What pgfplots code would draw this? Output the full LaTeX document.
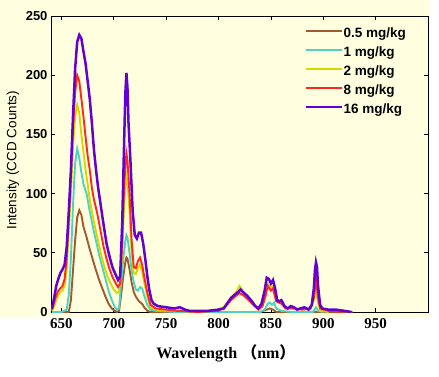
\documentclass[border=0pt]{standalone}
\usepackage{fontspec}
\setmainfont{Liberation Sans}
\newfontfamily\timesfont{Liberation Serif}
\newfontfamily\cjk{Noto Sans CJK SC}
\usepackage{pgfplots}
\pgfplotsset{compat=1.18}
\usetikzlibrary{backgrounds}
\definecolor{cream}{RGB}{255,255,224}
\definecolor{cbrown}{RGB}{160,90,45}
\definecolor{ccyan}{RGB}{80,210,195}
\definecolor{cyell}{RGB}{215,215,0}
\definecolor{cred}{RGB}{255,40,30}
\definecolor{cpurp}{RGB}{100,0,210}
\begin{document}
\begin{tikzpicture}
\begin{axis}[
  name=ax,
  scale only axis, width=377bp, height=296bp,
  xmin=640, xmax=1000, ymin=0, ymax=250,
  xtick={650,700,...,950}, ytick={0,50,...,250},
  tick align=inside, major tick length=4bp,
  axis line style={line width=0.9bp},
  every tick/.style={black, line width=0.8bp},
  /pgf/number format/assume math mode=true,
  /pgf/number format/set thousands separator={},
  xticklabel style={font=\timesfont\bfseries\fontsize{15bp}{15bp}\selectfont, yshift=-3bp},
  yticklabel style={font=\bfseries\fontsize{13bp}{13bp}\selectfont},
  xlabel={{\timesfont\bfseries Wavelength \cjk\bfseries（\timesfont\bfseries nm\cjk\bfseries）}},
  xlabel style={font=\fontsize{16bp}{16bp}\selectfont, at={(axis description cs:0.464,-0.139)}, anchor=center},
  ylabel={Intensity (CCD Counts)},
  ylabel style={font=\fontsize{13.5bp}{13.5bp}\selectfont, at={(axis description cs:-0.101,0.513)}, anchor=center},
  axis background/.style={fill=cream},
  legend cell align=left,
  legend style={draw=none, fill=none, at={(axis description cs:0.672,0.967)}, anchor=north west,
    font=\bfseries\fontsize{13.5bp}{13.5bp}\selectfont, inner sep=0pt, row sep=0pt,
    nodes={inner sep=1bp, text height=11bp, text depth=6bp}},
  legend image code/.code={\draw[#1, line width=2bp] (0bp,4.5bp) -- (36bp,4.5bp);},
]
\addplot[cbrown, line width=1.9bp] coordinates {
(641,0)(657,0)(659,10)(661,35)(663,60)(665,80)(667,86)(669,82)(671,72)(674,63)(677,53)(680,44)(683,35)(686,27)(689,20)(692,13)(695,7)(698,3)(701,1)(703,0)(705,1)(707,15)(709,30)(711,42)(712,46)(713,45)(715,36)(717,25)(719,17)(721,13)(724,9)(727,7)(729,4)(732,1)(735,0)(840,0)(846,2)(849,3)(852,2)(855,0)(928,0)};
\addlegendentry{0.5 mg/kg}
\addplot[ccyan, line width=1.9bp] coordinates {
(641,0)(650,0)(655,2)(657,15)(659,45)(661,90)(663,125)(665,138)(667,130)(669,118)(671,108)(674,100)(677,85)(680,72)(683,60)(686,48)(689,38)(692,28)(695,18)(698,10)(701,4)(703,2)(705,3)(707,25)(709,45)(711,60)(712,65)(713,63)(715,50)(717,35)(719,25)(721,19)(723,18)(725,21)(727,20)(729,14)(732,6)(735,2)(740,1)(760,0)(840,0)(844,2)(847,7)(849,8)(851,6)(853,8)(855,3)(860,1)(870,0)(890,0)(893,4)(895,1)(900,0)};
\addlegendentry{1 mg/kg}
\addplot[cyell, line width=1.9bp] coordinates {
(641,1)(643,5)(645,10)(647,14)(649,17)(651,18)(653,22)(655,38)(657,70)(659,100)(661,140)(663,165)(665,175)(667,168)(669,150)(671,135)(673,120)(675,108)(677,95)(679,85)(682,72)(685,60)(688,48)(691,38)(694,30)(697,24)(700,19)(703,16)(705,17)(708,50)(710,95)(712,115)(713,110)(715,85)(717,50)(719,33)(721,32)(723,37)(725,40)(727,34)(729,25)(732,13)(735,4)(740,2)(760,1)(780,0)(800,2)(806,5)(812,12)(817,17)(820,22)(824,17)(831,10)(838,3)(842,6)(845,16)(847,24)(850,21)(852,22)(855,10)(860,9)(864,3)(870,4)(880,2)(888,3)(891,10)(893,20)(895,8)(897,1)(905,0)};
\addlegendentry{2 mg/kg}
\addplot[cred, line width=1.9bp] coordinates {
(641,2)(643,8)(645,14)(647,18)(649,20)(651,22)(653,28)(655,45)(657,80)(659,115)(661,155)(663,185)(665,200)(667,195)(669,180)(671,165)(673,148)(675,132)(677,120)(679,105)(681,95)(684,84)(687,70)(690,56)(693,45)(696,36)(699,29)(702,24)(704,21)(706,24)(708,60)(710,110)(712,134)(713,128)(715,100)(717,60)(719,38)(721,37)(723,43)(725,46)(727,40)(729,30)(732,16)(735,6)(740,3)(750,2)(760,1)(780,0)(800,1)(806,4)(812,10)(817,14)(820,16)(824,14)(831,8)(838,2)(842,5)(845,14)(847,22)(850,18)(852,20)(855,9)(860,7)(864,3)(870,3)(880,2)(888,3)(891,12)(893,28)(895,12)(897,3)(905,1)(920,0)};
\addlegendentry{8 mg/kg}
\addplot[cpurp, line width=2.5bp] coordinates {
(641,3)(643,12)(645,22)(647,28)(649,33)(651,36)(653,40)(655,55)(657,85)(659,120)(661,165)(663,205)(665,228)(667,234)(669,231)(671,220)(673,210)(675,195)(677,180)(679,160)(681,137)(683,120)(685,105)(687,93)(690,75)(693,58)(695,50)(697,43)(699,37)(702,31)(704,27)(706,30)(708,75)(710,150)(711,185)(712,202)(713,190)(714,160)(716,125)(718,85)(720,65)(722,62)(724,67)(726,67)(728,58)(730,45)(732,30)(734,18)(736,10)(738,7)(742,5)(750,4)(758,3)(763,4)(768,2)(772,1)(780,1)(790,1)(800,2)(805,3)(808,7)(812,12)(816,15)(819,17)(821,19)(823,17)(827,14)(831,10)(835,5)(838,3)(841,7)(844,18)(846,29)(848,28)(850,24)(852,27)(854,20)(856,10)(858,9)(860,10)(863,5)(866,3)(869,5)(872,4)(875,2)(878,3)(882,4)(886,2)(889,6)(891,20)(892,35)(893,42)(894,38)(895,22)(897,6)(899,3)(905,2)(912,2)(920,1)(927,0)};
\addlegendentry{16 mg/kg}
\end{axis}
\begin{scope}[on background layer]
\fill[cream] ([xshift=-51bp,yshift=16bp]ax.north west) rectangle ([xshift=2bp,yshift=-5bp]ax.south east);
\end{scope}
\pgfresetboundingbox
\path ([xshift=-51bp,yshift=-65bp]ax.south west) rectangle ([xshift=11bp,yshift=16bp]ax.north east);
\end{tikzpicture}
\end{document}
